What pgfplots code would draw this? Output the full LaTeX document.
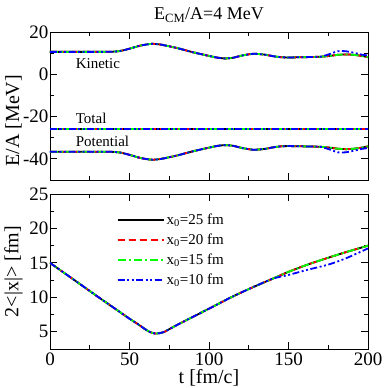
\documentclass[border=0pt]{standalone}
\usepackage{pgfplots}
\pgfplotsset{compat=1.18}
\usepackage{pgfplotstable}
\usepackage{fontspec}
\setmainfont{Liberation Serif}

\definecolor{gred}{RGB}{255,0,0}
\definecolor{ggreen}{RGB}{0,255,0}
\definecolor{gblue}{RGB}{0,0,255}

% energies per nucleon: K = kinetic, P = potential (b = x0=10 fm run)
\pgfplotstableread{
t   K     Kb    P      Pb
0   10.6  10.6  -36.6  -36.6
10  10.6  10.6  -36.6  -36.6
20  10.6  10.6  -36.6  -36.6
30  10.6  10.6  -36.6  -36.6
38  10.65 10.65 -36.65 -36.65
44  11.0  11.0  -37.0  -37.0
50  12.1  12.1  -38.1  -38.1
57  13.6  13.6  -39.6  -39.6
64  14.4  14.4  -40.4  -40.4
70  14.0  14.0  -40.0  -40.0
80  12.4  12.4  -38.4  -38.4
90  10.4  10.4  -36.4  -36.4
100 8.7   8.7   -34.7  -34.7
105 7.9   7.9   -33.9  -33.9
110 7.5   7.5   -33.5  -33.5
115 7.8   7.8   -33.8  -33.8
121 8.9   8.9   -34.9  -34.9
128 9.7   9.7   -35.7  -35.7
135 9.3   9.3   -35.3  -35.3
140 8.6   8.6   -34.6  -34.6
145 8.1   8.1   -34.1  -34.1
150 7.95  7.95  -33.95 -33.95
160 8.1   8.1   -34.1  -34.1
170 8.3   8.3   -34.3  -34.3
176 8.7   9.6   -34.7  -35.6
181 9.2   10.9  -35.2  -36.9
186 9.4   10.9  -35.4  -36.9
191 9.2   10.2  -35.2  -36.2
196 8.7   9.3   -34.7  -35.3
200 8.1   8.9   -34.1  -34.9
}\energy

\pgfplotstableread{
t   E
0   -26
100 -26
200 -26
}\total

% 2<|x|> in fm
\pgfplotstableread{
t   X     Xb
0   15.0  15.0
10  13.37 13.37
20  11.74 11.74
30  10.1  10.1
40  8.5   8.5
50  6.9   6.9
55  6.15  6.15
60  5.35  5.35
63  4.95  4.95
66  4.75  4.75
69  4.8   4.8
72  5.0   5.0
76  5.5   5.5
80  6.0   6.0
88  6.95  6.95
100 8.35  8.35
113 9.9   9.9
125 11.2  11.2
140 12.7  12.7
150 13.7  13.25
162 14.75 14.0
175 15.75 14.75
186 16.55 15.65
200 17.5  17.1
}\size

\tikzset{
  s25/.style={black, solid, line width=1.8pt},
  s20/.style={gred, line width=1.8pt, dash pattern=on 7pt off 4pt},
  s15/.style={ggreen, line width=1.8pt, dash pattern=on 8pt off 3pt on 2pt off 3pt},
  s10/.style={gblue, line width=1.8pt, dash pattern=on 7pt off 2.5pt on 2pt off 2.5pt on 2pt off 2.5pt},
}

\pgfplotsset{
  grace/.style={
    scale only axis,
    width=318pt,
    xmin=0, xmax=200,
    xtick={0,50,...,200},
    minor x tick num=1,
    minor y tick num=1,
    tick align=inside,
    major tick length=7pt,
    minor tick length=4pt,
    axis line style={line width=0.9pt},
    every tick/.style={black, line width=0.9pt},
    tick label style={font=\fontsize{19}{19}\selectfont},
    /pgf/number format/assume math mode=true,
    xticklabel={\pgfmathprintnumber{\tick}},
    yticklabel={\pgfmathprintnumber{\tick}},
    yticklabel style={xshift=2pt},
    label style={font=\fontsize{20}{20}\selectfont},
    every axis plot/.append style={smooth, tension=0.4},
  }
}

\begin{document}
\begin{tikzpicture}[x=1pt,y=1pt]
\path[use as bounding box] (0,0) rectangle (383,388);

\begin{axis}[
  grace,
  at={(50pt,208pt)}, anchor=south west,
  height=148pt,
  ymin=-50, ymax=20,
  ytick={-40,-20,0,20},
  xticklabels={},
  ylabel={E/A [MeV]},
  ylabel style={at={(axis description cs:-0.115,0.4)}, anchor=center},
  title={E\textsubscript{CM}/A=4 MeV},
  title style={font=\fontsize{18}{18}\selectfont, yshift=0pt},
]
\addplot[s25] table[x=t,y=K] {\energy};
\addplot[s20] table[x=t,y=K] {\energy};
\addplot[s15] table[x=t,y=K] {\energy};
\addplot[s10] table[x=t,y=Kb] {\energy};
\addplot[s25, sharp plot] table[x=t,y=E] {\total};
\addplot[s20, sharp plot] table[x=t,y=E] {\total};
\addplot[s15, sharp plot] table[x=t,y=E] {\total};
\addplot[s10, sharp plot] table[x=t,y=E] {\total};
\addplot[s25] table[x=t,y=P] {\energy};
\addplot[s20] table[x=t,y=P] {\energy};
\addplot[s15] table[x=t,y=P] {\energy};
\addplot[s10] table[x=t,y=Pb] {\energy};
\node[anchor=west, font=\fontsize{15}{15}\selectfont] at (axis cs:14,5.2) {Kinetic};
\node[anchor=west, font=\fontsize{15}{15}\selectfont] at (axis cs:14,-21) {Total};
\node[anchor=west, font=\fontsize{15}{15}\selectfont] at (axis cs:14,-31.5) {Potential};
\end{axis}

\begin{axis}[
  grace,
  at={(50pt,39pt)}, anchor=south west,
  height=155pt,
  ymin=2.5, ymax=25,
  ytick={5,10,...,25},
  xlabel={t [fm/c]},
  xlabel style={at={(axis description cs:0.5,0)}, anchor=center, yshift=-29pt},
  ylabel={2<|x|> [fm]},
  ylabel style={at={(axis description cs:-0.115,0.5)}, anchor=center},
  legend style={draw=none, fill=none, at={(0.2,0.9)}, anchor=north west,
    font=\fontsize{15}{15}\selectfont, row sep=4pt},
  legend cell align=left,
  legend image code/.code={
    \path (0pt,0pt) -- (46pt,0pt);
    \draw[#1] (0pt,0pt) -- (40pt,0pt);},
]
\addplot[s25] table[x=t,y=X] {\size};
\addlegendentry{x\textsubscript{0}=25 fm}
\addplot[s20] table[x=t,y=X] {\size};
\addlegendentry{x\textsubscript{0}=20 fm}
\addplot[s15] table[x=t,y=X] {\size};
\addlegendentry{x\textsubscript{0}=15 fm}
\addplot[s10] table[x=t,y=Xb] {\size};
\addlegendentry{x\textsubscript{0}=10 fm}
\end{axis}
\end{tikzpicture}
\end{document}
